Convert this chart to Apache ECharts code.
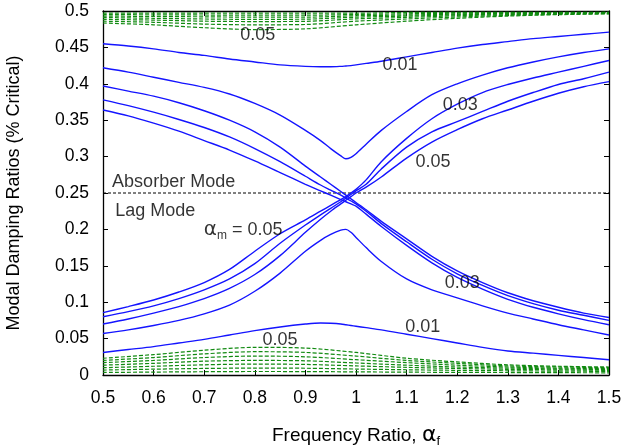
<!DOCTYPE html>
<html><head><meta charset="utf-8">
<script src="https://cdn.jsdelivr.net/npm/echarts@6/dist/echarts.min.js"></script>
<style>html,body{margin:0;padding:0;background:#fff}#c{width:626px;height:448px}</style>
</head><body><div id="c"></div>
<script>
// frequency ratio samples for blue curves
const xs = [0.5,0.55,0.6,0.65,0.7,0.75,0.8,0.85,0.9,0.93,0.95,0.97,0.98,0.99,1.0,1.02,1.05,1.1,1.15,1.2,1.25,1.3,1.35,1.4,1.45,1.5];
// upper (veering) curves
const upA = [0.455,0.452,0.448,0.443,0.439,0.434,0.430,0.426,0.424,0.4235,0.4235,0.424,0.4245,0.425,0.426,0.428,0.431,0.437,0.443,0.449,0.454,0.458,0.462,0.465,0.468,0.471];
const upB = [0.422,0.416,0.409,0.402,0.395,0.386,0.373,0.357,0.336,0.322,0.311,0.301,0.297,0.299,0.304,0.317,0.336,0.362,0.385,0.400,0.412,0.422,0.430,0.437,0.443,0.448];
// lower (veering) curves
const loA = [0.031,0.035,0.039,0.044,0.049,0.055,0.061,0.066,0.070,0.0715,0.071,0.070,0.069,0.068,0.067,0.065,0.062,0.056,0.050,0.044,0.038,0.033,0.030,0.027,0.024,0.021];
const loB = [0.057,0.062,0.068,0.075,0.084,0.096,0.115,0.140,0.170,0.185,0.193,0.199,0.200,0.196,0.189,0.175,0.156,0.132,0.117,0.106,0.095,0.085,0.077,0.069,0.062,0.055];
// crossing curves: rising (lower-left to upper-right)
const riseC = [0.0856,0.094,0.103,0.114,0.127,0.145,0.170,0.194,0.213,0.225,0.233,0.241,0.245,0.250,0.255,0.268,0.293,0.325,0.352,0.372,0.388,0.399,0.408,0.416,0.424,0.432];
const riseD = [0.080,0.087,0.095,0.105,0.117,0.132,0.153,0.181,0.206,0.220,0.229,0.238,0.243,0.248,0.253,0.262,0.283,0.313,0.334,0.348,0.362,0.376,0.388,0.399,0.407,0.416];
const riseE = [0.070,0.077,0.085,0.094,0.105,0.119,0.138,0.164,0.196,0.214,0.225,0.235,0.240,0.245,0.250,0.258,0.272,0.298,0.320,0.337,0.352,0.364,0.376,0.387,0.396,0.403];
// crossing curves: falling (upper-left to lower-right)
const fallC = [0.397,0.390,0.383,0.374,0.363,0.350,0.334,0.313,0.287,0.272,0.262,0.252,0.247,0.242,0.237,0.227,0.211,0.187,0.163,0.143,0.127,0.113,0.102,0.093,0.085,0.079];
const fallD = [0.378,0.370,0.361,0.351,0.340,0.327,0.311,0.293,0.273,0.261,0.254,0.247,0.243,0.239,0.235,0.225,0.208,0.183,0.159,0.139,0.123,0.109,0.098,0.089,0.082,0.075];
const fallE = [0.364,0.356,0.346,0.335,0.322,0.309,0.294,0.278,0.262,0.253,0.247,0.241,0.238,0.235,0.232,0.221,0.204,0.178,0.154,0.134,0.118,0.104,0.093,0.084,0.076,0.069];
// green dashed bands
const gx = [0.5,0.6,0.7,0.8,0.9,1.0,1.1,1.2,1.3,1.4,1.5];
const topBand = [
  [0.497,0.497,0.497,0.497,0.497,0.497,0.498,0.498,0.498,0.498,0.498],
  [0.495,0.4948,0.4945,0.4942,0.4942,0.4952,0.4962,0.497,0.4975,0.4978,0.498],
  [0.493,0.4925,0.492,0.4915,0.4915,0.4935,0.4945,0.4958,0.4968,0.4975,0.4978],
  [0.491,0.490,0.489,0.4885,0.4888,0.4915,0.493,0.4948,0.496,0.497,0.4975],
  [0.4885,0.4875,0.486,0.4855,0.4858,0.4892,0.4912,0.4935,0.495,0.4962,0.497],
  [0.486,0.4845,0.482,0.481,0.4815,0.486,0.489,0.4918,0.494,0.4955,0.4965],
  [0.4835,0.481,0.477,0.4745,0.4755,0.481,0.486,0.490,0.493,0.495,0.496]
];
const botBand = [
  [0.023,0.028,0.034,0.038,0.037,0.031,0.023,0.018,0.014,0.012,0.011],
  [0.020,0.024,0.029,0.032,0.031,0.026,0.020,0.016,0.0125,0.011,0.010],
  [0.017,0.020,0.024,0.026,0.025,0.021,0.017,0.0135,0.011,0.0095,0.0088],
  [0.0135,0.016,0.019,0.020,0.0195,0.0165,0.0135,0.011,0.0095,0.0083,0.0076],
  [0.010,0.012,0.014,0.015,0.0145,0.0125,0.0105,0.009,0.0078,0.007,0.0064],
  [0.0068,0.008,0.009,0.0095,0.0093,0.0082,0.0072,0.0064,0.0058,0.0053,0.005],
  [0.0035,0.004,0.0045,0.0048,0.0047,0.0043,0.0039,0.0036,0.0034,0.0032,0.003]
];
const modeBoundary = 0.25;
// annotations [x, y, text, align]
const notes = [
  [0.806,0.467,'0.05','center'],
  [1.087,0.426,'0.01','center'],
  [1.206,0.371,'0.03','center'],
  [1.152,0.2926,'0.05','center'],
  [0.518,0.265,'Absorber Mode','left'],
  [0.524,0.225,'Lag Mode','left'],
  [0.777,0.199,'{g|α}{s|m} = 0.05','center'],
  [1.21,0.126,'0.03','center'],
  [1.132,0.066,'0.01','center'],
  [0.85,0.048,'0.05','center']
];

const FONT = 'Liberation Sans, Arial, sans-serif';
const GREEKFONT = 'DejaVu Sans, sans-serif';
const BLUE = '#1414ff';
const GREEN = '#118a11';
const pair = (x, y) => x.map((v, i) => [v, y[i]]);
const series = [];
[upA, upB, loA, loB, riseC, riseD, riseE, fallC, fallD, fallE].forEach(arr => {
  series.push({type:'line', data: pair(xs, arr), symbol:'none', smooth:0.3,
    lineStyle:{color:BLUE, width:1.4}, silent:true, z:3});
});
topBand.concat(botBand).forEach(arr => {
  series.push({type:'line', data: pair(gx, arr), symbol:'none', smooth:0.3,
    lineStyle:{color:GREEN, width:1.2, type:[4,2]}, silent:true, z:2});
});
series.push({type:'line', data:[[0.5,modeBoundary],[1.5,modeBoundary]], symbol:'none',
  lineStyle:{color:'#000', width:1, type:[3,2]}, silent:true, z:2});
series.push({type:'scatter', symbolSize:0, silent:true, z:5,
  data: notes.map(n => ({value:[n[0], n[1]], label:{align:n[3]}, name:n[2]})),
  label:{show:true, position:'inside', formatter: p => p.name, color:'#000',
    fontFamily:FONT, fontSize:18,
    rich:{g:{fontFamily:GREEKFONT, fontSize:20, color:'#000'},
          s:{fontSize:12, color:'#000', padding:[11,0,0,0]}}}
});

const chart = echarts.init(document.getElementById('c'), null, {renderer:'canvas'});
const axisCommon = {
  axisLine:{show:true, onZero:false, lineStyle:{color:'#000', width:1.3}},
  axisTick:{show:true, inside:true, length:5, lineStyle:{color:'#000'}},
  splitLine:{show:false}
};
chart.setOption({
  animation:false,
  backgroundColor:'#fff',
  grid:{left:103, right:17, top:11, bottom:73, containLabel:false, outerBoundsMode:'none'},
  xAxis:[
    Object.assign({type:'value', min:0.5, max:1.5, interval:0.1, position:'bottom',
      axisLabel:{color:'#000', fontFamily:FONT, fontSize:17.5, margin:14,
        formatter: v => String(parseFloat(v.toFixed(2)))},
      name:'Frequency Ratio, {g|α}{s|f}', nameLocation:'middle', nameGap:48,
      nameTextStyle:{color:'#000', fontFamily:FONT, fontSize:19,
        rich:{g:{fontFamily:GREEKFONT, fontSize:22, color:'#000'},
              s:{fontSize:13, color:'#000', padding:[12,0,0,0]}}}
    }, axisCommon),
    Object.assign({type:'value', min:0.5, max:1.5, interval:0.1, position:'top',
      axisLabel:{show:false}}, axisCommon)
  ],
  yAxis:[
    Object.assign({type:'value', min:0, max:0.5, interval:0.05, position:'left',
      axisLabel:{color:'#000', fontFamily:FONT, fontSize:17.5, margin:14,
        formatter: v => String(parseFloat(v.toFixed(2)))},
      name:'Modal Damping Ratios (% Critical)', nameLocation:'middle', nameGap:80,
      nameTextStyle:{color:'#000', fontFamily:FONT, fontSize:18}
    }, axisCommon),
    Object.assign({type:'value', min:0, max:0.5, interval:0.05, position:'right',
      axisLabel:{show:false}}, axisCommon)
  ],
  series: series
});
</script></body></html>
